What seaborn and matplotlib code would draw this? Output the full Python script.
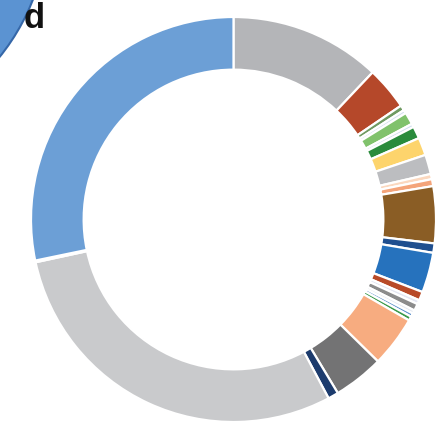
import matplotlib
matplotlib.use("Agg")
import matplotlib.pyplot as plt
import seaborn as sns
from matplotlib.patches import Circle

sns.set_theme(style="white")
plt.rcParams['font.family'] = ['Liberation Sans', 'DejaVu Sans']

# Segment data (clockwise from 12 o'clock), shares in degrees of the ring
categories = [
    "gray_a", "red_a", "olive", "pale_a", "green_light", "pale_b", "green_dark",
    "yellow", "gray_b", "peach_pale", "orange_thin", "brown", "navy_a", "blue",
    "red_b", "pale_c", "gray_c", "pale_d", "blue_thin", "green_thin", "orange",
    "gray_dark", "navy_b", "gray_light", "yellow_sliver", "blue_light",
]
values = [
    43.4, 12.4, 1.5, 1.0, 3.5, 1.0, 3.5,
    5.1, 5.6, 1.5, 2.0, 16.3, 2.7, 11.5,
    2.5, 1.2, 2.0, 1.0, 1.0, 1.2, 14.6,
    14.5, 3.0, 105.8, 0.5, 101.7,
]
colors = [
    "#b4b5b8", "#b5482a", "#6f9a62", "#d6e2f0", "#80c26c", "#d3dff0", "#2a8b3c",
    "#fdd46c", "#bcbdc0", "#fbd8bf", "#f4a47a", "#8a5d25", "#1f4f8f", "#2672bd",
    "#b84a28", "#e4e6f2", "#8c8c8c", "#e6eaf2", "#5b8fcb", "#3a9a4a", "#f7ac80",
    "#737374", "#1c3b6d", "#c9cacc", "#f6e6b8", "#6c9fd6",
]

W, H = 443, 442
cx, cy, R = 233.5, 219.5, 202.5

fig = plt.figure(figsize=(W / 100, H / 100), dpi=100)
ax = fig.add_axes([0, 0, 1, 1])

ax.pie(values, colors=colors, startangle=90, counterclock=False, radius=1.0,
       wedgeprops=dict(width=0.26, edgecolor="white", linewidth=1.6))

# partial decorative circle at top-left
bc = Circle(((-170 - cx) / R, (cy + 80) / R), 218 / R, facecolor="#5b93d2",
            edgecolor="#3567a8", linewidth=1.5, zorder=0)
ax.add_patch(bc)

ax.set_xlim(-cx / R, (W - cx) / R)
ax.set_ylim(-(H - cy) / R, cy / R)
ax.set_aspect("auto")
ax.axis("off")

fig.text(24 / W, 1 - 2 / H, "d", fontsize=25, fontweight="bold", color="#111111",
         ha="left", va="top")

fig.savefig("out.png", dpi=100, facecolor="white")
